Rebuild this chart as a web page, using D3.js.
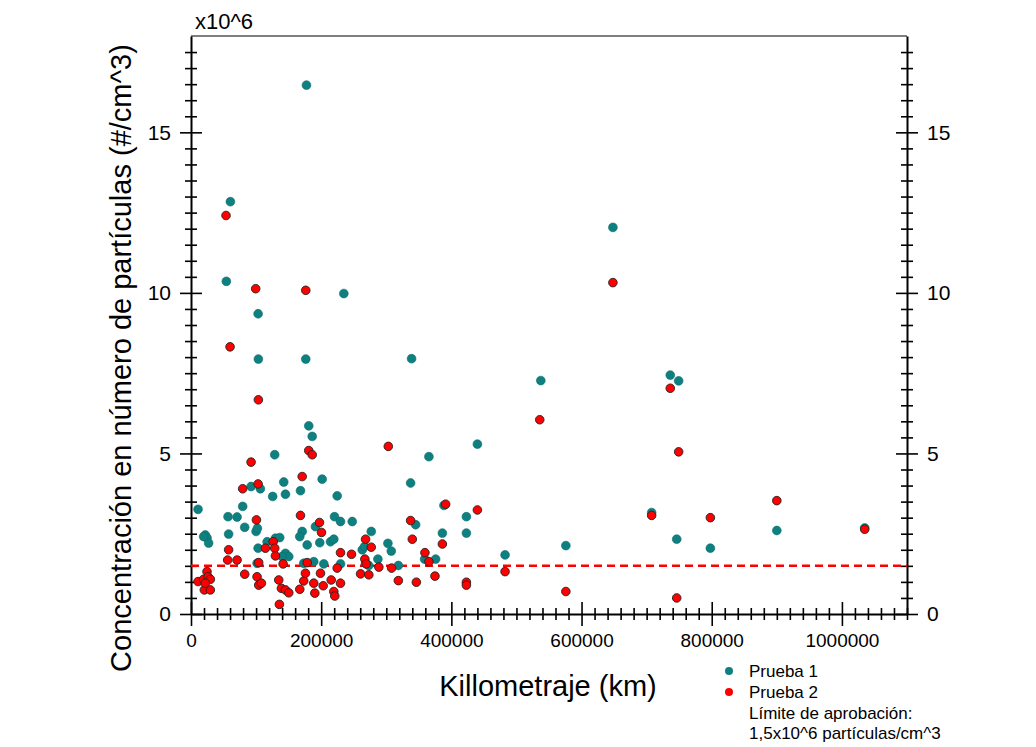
<!DOCTYPE html>
<html>
<head>
<meta charset="utf-8">
<script src="https://cdn.jsdelivr.net/npm/d3@7/dist/d3.min.js"></script>
<style>
  body { margin: 0; background: #fff; }
  text { font-family: "Liberation Sans", Arial, sans-serif; fill: #000; }
</style>
</head>
<body>
<svg id="chart" width="1036" height="747"></svg>
<script>
// Prueba 1 (km, x10^6 particulas/cm^3)
const p1Km = [10800, 22000, 24600, 27100, 19400, 56900, 70800, 57800, 79400, 82500,
    92300, 106600, 100000, 102000, 103100, 128600, 125500, 142500, 145100, 116900,
    129700, 136300, 145100, 150200, 140000, 101500, 168200, 170800, 167100, 178500,
    180900, 186200, 191200, 173200, 201500, 224600, 220500, 229700, 247700, 197800,
    214300, 219400, 276900, 263100, 266600, 302500, 307700, 287100, 318500, 337400,
    365500, 345100, 386200, 388600, 358900, 375800, 188600, 204000, 229700, 268200,
    273200, 60500, 54300, 234800, 103100, 103500, 176300, 177400, 338900, 440000,
    423100, 423100, 575900, 482500, 537400, 648200, 736300, 749200, 707700, 746200,
    797900, 900000, 1035000];
const p1Conc = [3.26, 2.46, 2.37, 2.21, 2.41, 3.03, 3.02, 2.49, 3.35, 2.70,
    3.97, 3.90, 2.57, 2.67, 2.05, 4.96, 3.66, 4.11, 3.73, 2.25,
    2.36, 2.38, 1.89, 1.79, 1.79, 1.58, 3.84, 2.57, 2.41, 2.15,
    5.86, 5.53, 2.72, 1.58, 4.20, 3.68, 3.03, 2.88, 2.88, 2.22,
    2.25, 2.33, 2.57, 2.00, 2.10, 2.20, 1.96, 1.71, 1.51, 4.08,
    4.90, 2.78, 2.52, 3.38, 1.71, 1.71, 1.63, 1.56, 1.56, 1.58,
    1.51, 12.84, 10.36, 9.98, 9.35, 7.94, 7.94, 16.47, 7.95, 5.29,
    3.03, 2.52, 2.13, 1.84, 7.27, 12.04, 7.44, 7.26, 3.16, 2.33,
    2.05, 2.60, 2.68];

// Prueba 2
const p2Km = [92300, 103100, 79400, 100500, 170800, 168200, 180900, 186200, 57800, 56300,
    70800, 114300, 126200, 128600, 129700, 104000, 141500, 178500, 82500, 101500,
    104000, 108200, 10800, 19400, 24600, 26200, 29700, 20500, 29700, 22000,
    134800, 138900, 145100, 150200, 135800, 167100, 173200, 175800, 188600, 190200,
    303100, 197400, 200500, 337400, 340000, 391200, 386200, 268200, 276900, 229700,
    246600, 267100, 269200, 288600, 308200, 359400, 365500, 198900, 203100, 224600,
    215400, 229700, 219400, 220900, 260500, 273200, 318500, 346200, 374800, 53800,
    99400, 176300, 60000, 103500, 535800, 440000, 482500, 423100, 423100, 575900,
    648200, 736300, 749200, 707700, 746200, 797900, 900000, 1035000];
const p2Conc = [4.73, 4.05, 3.90, 2.93, 4.28, 3.07, 5.09, 4.96, 2.00, 1.68,
    1.68, 2.05, 2.25, 2.05, 1.81, 1.60, 1.56, 1.60, 1.24, 1.16,
    0.90, 0.96, 1.01, 1.08, 1.32, 1.16, 1.08, 0.75, 0.75, 0.96,
    1.06, 0.80, 0.75, 0.66, 0.30, 0.77, 1.03, 1.27, 0.96, 0.65,
    5.22, 2.85, 2.54, 2.91, 2.33, 3.42, 2.18, 2.33, 2.08, 1.91,
    1.86, 1.71, 1.56, 1.46, 1.43, 1.91, 1.63, 1.27, 0.88, 1.43,
    1.06, 0.96, 0.70, 0.56, 1.25, 1.22, 1.04, 0.99, 1.18, 12.41,
    10.13, 10.08, 8.32, 6.67, 6.05, 3.24, 1.32, 0.99, 0.90, 0.70,
    10.32, 7.03, 5.05, 3.07, 0.50, 3.00, 3.53, 2.64];

const limite = 1.5;
const xMajor = [0, 200000, 400000, 600000, 800000, 1000000];
const yMajor = [0, 5, 10, 15];

const svg = d3.select("#chart");
const margin = {top: 36, left: 191, right: 129, bottom: 133};
const width = +svg.attr("width");
const height = +svg.attr("height");

const x = d3.scaleLinear().domain([0, 1100000]).range([margin.left, width - margin.right]);
const y = d3.scaleLinear().domain([0, 18]).range([height - margin.bottom, margin.top]);

const xTicks = d3.range(0, 1100001, 20000);
const yTicks = d3.range(0, 17.6, 0.5);
const isMajX = d => xMajor.includes(d);
const isMajY = d => yMajor.includes(d);

// top frame line
svg.append("line")
    .attr("x1", x(0)).attr("x2", x(1100000))
    .attr("y1", y(18)).attr("y2", y(18))
    .attr("stroke", "#000").attr("stroke-width", 1);

const styleAxis = g => {
    g.attr("font-family", null).attr("font-size", null);
    g.select(".domain").attr("stroke-width", 2);
    g.selectAll(".tick line").attr("stroke-width", 1.6);
};

// left axis
svg.append("g")
    .attr("transform", `translate(${x(0)},0)`)
    .call(d3.axisLeft(y).tickValues(yTicks).tickSizeOuter(0).tickFormat(d => isMajY(d) ? d : ""))
    .call(styleAxis)
    .call(g => {
        g.selectAll(".tick line").attr("x1", d => isMajY(d) ? 11 : 6).attr("x2", d => isMajY(d) ? -11 : -6);
        g.selectAll(".tick text").attr("x", -20).style("font-size", "21px");
    });

// right axis
svg.append("g")
    .attr("transform", `translate(${x(1100000)},0)`)
    .call(d3.axisRight(y).tickValues(yTicks).tickSizeOuter(0).tickFormat(d => isMajY(d) ? d : ""))
    .call(styleAxis)
    .call(g => {
        g.selectAll(".tick line").attr("x1", d => isMajY(d) ? -11 : -6).attr("x2", d => isMajY(d) ? 11 : 6);
        g.selectAll(".tick text").attr("x", 20).style("font-size", "21px");
    });

// bottom axis
svg.append("g")
    .attr("transform", `translate(0,${y(0)})`)
    .call(d3.axisBottom(x).tickValues(xTicks).tickSizeOuter(0).tickFormat(d => isMajX(d) ? d : ""))
    .call(styleAxis)
    .call(g => {
        g.selectAll(".tick line").attr("y1", d => isMajX(d) ? -12 : -6).attr("y2", d => isMajX(d) ? 12 : 6);
        g.selectAll(".tick text").attr("y", 20).attr("dy", "0.71em").style("font-size", "19px");
    });

// limite de aprobacion
svg.append("line")
    .attr("x1", x(0)).attr("x2", x(1100000))
    .attr("y1", y(limite)).attr("y2", y(limite))
    .attr("stroke", "#ff0000").attr("stroke-width", 2.5)
    .attr("stroke-dasharray", "8,5");

const p1 = p1Km.map((k, i) => ({km: k, c: p1Conc[i]}));
const p2 = p2Km.map((k, i) => ({km: k, c: p2Conc[i]}));

svg.append("g").selectAll("circle")
    .data(p1).enter().append("circle")
    .attr("cx", d => x(d.km)).attr("cy", d => y(d.c))
    .attr("r", 4.4)
    .attr("fill", "#0f8080").attr("stroke", "#0a6b6b").attr("stroke-width", 0.6);

svg.append("g").selectAll("circle")
    .data(p2).enter().append("circle")
    .attr("cx", d => x(d.km)).attr("cy", d => y(d.c))
    .attr("r", 4.3)
    .attr("fill", "#ff0000").attr("stroke", "#222").attr("stroke-width", 0.9);

// titles
svg.append("text")
    .attr("x", 195).attr("y", 29)
    .style("font-size", "22px")
    .text("x10^6");

svg.append("text")
    .attr("transform", `translate(131,358) rotate(-90)`)
    .attr("text-anchor", "middle")
    .style("font-size", "29px")
    .text("Concentración en número de partículas (#/cm^3)");

svg.append("text")
    .attr("x", 548).attr("y", 696)
    .attr("text-anchor", "middle")
    .style("font-size", "29px")
    .text("Killometraje (km)");

// legend
const legendItems = [
    {label: "Prueba 1", color: "#0f8080"},
    {label: "Prueba 2", color: "#ff0000"}
];
const legend = svg.selectAll(".legend")
    .data(legendItems).enter().append("g")
    .attr("class", "legend")
    .attr("transform", (d, i) => `translate(729,${671 + i * 21})`);
legend.append("circle")
    .attr("r", 4)
    .attr("fill", d => d.color);
legend.append("text")
    .attr("x", 20).attr("y", 6)
    .style("font-size", "17px")
    .text(d => d.label);

svg.append("text")
    .attr("x", 749).attr("y", 719)
    .style("font-size", "17px")
    .text("Límite de aprobación:");
svg.append("text")
    .attr("x", 749).attr("y", 739)
    .style("font-size", "17px")
    .text("1,5x10^6 partículas/cm^3");
</script>
</body>
</html>
